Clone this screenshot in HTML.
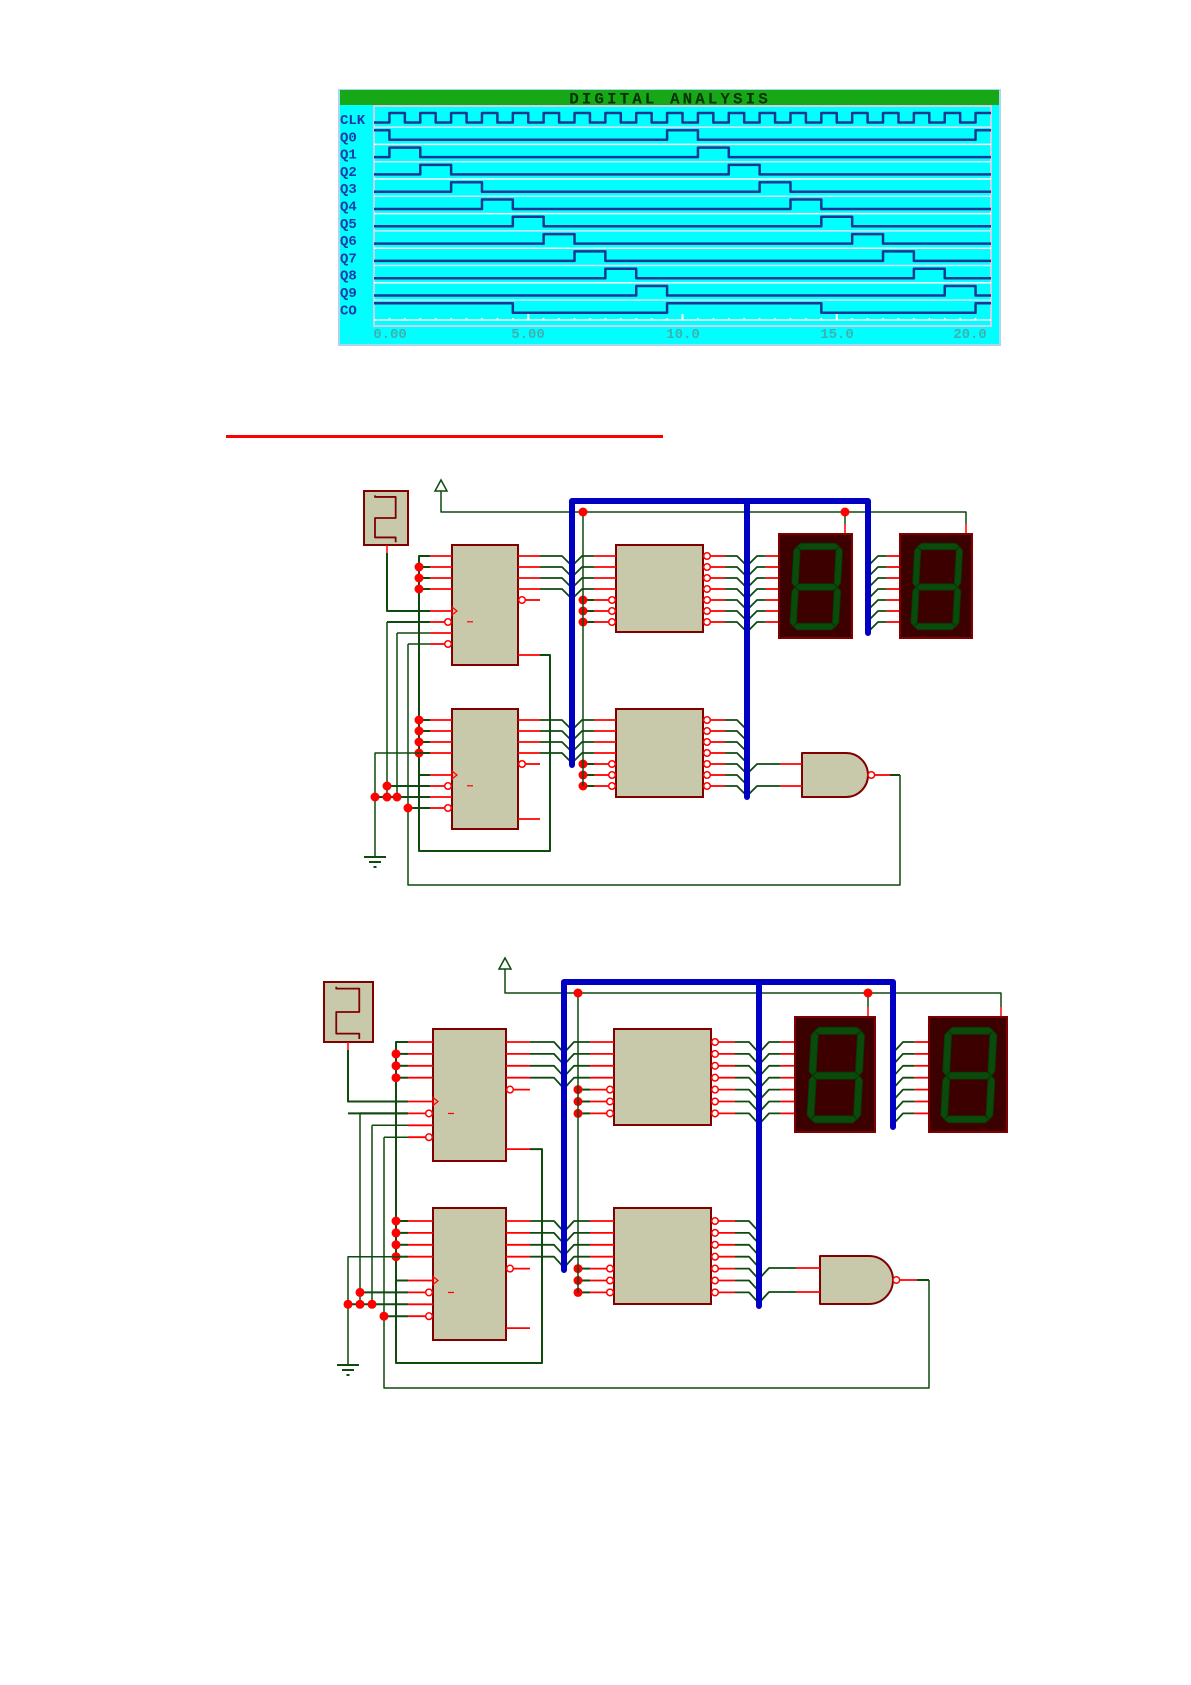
<!DOCTYPE html>
<html><head><meta charset="utf-8"><style>
html,body{margin:0;padding:0;background:#fff;width:1191px;height:1685px;overflow:hidden}
svg{display:block}
text{font-family:"Liberation Mono",monospace}
</style></head><body>
<div id="root"></div>
<script>
const G='#0f4a0f',R='#ff0000',BR='#800000',CF='#c8c8aa';
let s='';
function L(x1,y1,x2,y2,c,w){s+=`<line x1="${x1}" y1="${y1}" x2="${x2}" y2="${y2}" stroke="${c}" stroke-width="${w||1.5}"/>`;}
function P(d,c,w,f){s+=`<path d="${d}" stroke="${c}" stroke-width="${w||1.5}" fill="${f||'none'}" stroke-linejoin="round"/>`;}
function dot(x,y,r){s+=`<circle cx="${x}" cy="${y}" r="${r||4.5}" fill="${R}"/>`;}
function bub(x,y){s+=`<circle cx="${x}" cy="${y}" r="3.3" fill="#fff" stroke="${R}" stroke-width="1.5"/>`;}
function rect(x1,y1,x2,y2,f,c,w){s+=`<rect x="${x1}" y="${y1}" width="${x2-x1}" height="${y2-y1}" fill="${f}" stroke="${c}" stroke-width="${w||2}"/>`;}

/* ---------- waveform panel ---------- */
const X=t=>374+30.85*t;
rect(339,90,1000,345,'#00ffff','#a8d8f0',2);
s+=`<rect x="340" y="90" width="659" height="15" fill="#16a816"/>`;
s+=`<text x="670" y="103.5" text-anchor="middle" font-size="16" font-weight="bold" fill="#063006" letter-spacing="3">DIGITAL ANALYSIS</text>`;
rect(374,106,991,326,'none','#c8d0ec',2);
const names=['CLK','Q0','Q1','Q2','Q3','Q4','Q5','Q6','Q7','Q8','Q9','CO'];
function wp(highs,hi,lo){let d=`M${X(0)},${highs.length&&highs[0][0]<=0?hi:lo}`;
 for(const [a0,b0] of highs){const a=Math.max(0,a0),b=Math.min(20,b0);if(b<=0||a>=20)continue;
  if(a>0)d+=` H${X(a)} V${hi}`;d+=` H${X(b)}`;if(b<20)d+=` V${lo}`;}
 d+=` H${X(20)}`;return d;}
for(let i=0;i<12;i++){
 const hi=113+17.3*i, lo=hi+9.5;
 if(i<11)L(374,lo+4.6,991,lo+4.6,i%2?'#ffffff':'#d8e4ff',1.5);
 s+=`<text x="340" y="${lo+1.5}" font-size="14" font-weight="bold" fill="#1a3aa8">${names[i]}</text>`;
 let h=[];
 if(i==0){for(let k=0;k<20;k++)h.push([k+0.5,k+1]);}
 else if(i<11){const k=i-1;h=[[k-0.5,k+0.5],[k+9.5,k+10.5],[k+19.5,k+20.5]];h=h.filter(a=>a[1]>0);}
 else h=[[0,4.5],[9.5,14.5],[19.5,20]];
 P(wp(h,hi,lo),'#1a3890',2.5);
}
L(374,320,991,320,'#ffffff',1.5);
for(let t=0.5;t<20;t+=0.5){const big=(t%5==0);L(X(t),big?314:318,X(t),320,'#ffffff',big?2:1.5);}
[['0.00',390],['5.00',528],['10.0',683],['15.0',837],['20.0',970]].forEach(a=>{
 s+=`<text x="${a[1]}" y="338" text-anchor="middle" font-size="14" font-weight="bold" fill="#40b0b0">${a[0]}</text>`;});

/* red line */
s+=`<rect x="226" y="435" width="437" height="3" fill="#ff0000"/>`;

/* ---------- schematic ---------- */
function seg7(x1,y1,x2,y2){
 rect(x1,y1,x2,y2,'#3c0000',BR,2);
 const w=x2-x1,h=y2-y1;
 const ax=x1+w*0.22, bx=x1+w*0.80, ty=y1+h*0.12, my=y1+h*0.51, by=y1+h*0.89, sk=w*0.025, t=w*0.09;
 const sx=(x,y)=>x+sk*(my-y)/(my-ty);
 const H=(xa,xb,y)=>`<polygon points="${sx(xa+t*0.6,y)},${y-t/2} ${sx(xb-t*0.6,y)},${y-t/2} ${sx(xb,y)},${y} ${sx(xb-t*0.6,y)},${y+t/2} ${sx(xa+t*0.6,y)},${y+t/2} ${sx(xa,y)},${y}" fill="#0a4a0a" stroke="#063806" stroke-width="0.8"/>`;
 const V=(x,ya,yb)=>`<polygon points="${sx(x,ya)},${ya} ${sx(x,ya)+t/2},${ya+t*0.6} ${sx(x,yb)+t/2},${yb-t*0.6} ${sx(x,yb)},${yb} ${sx(x,yb)-t/2},${yb-t*0.6} ${sx(x,ya)-t/2},${ya+t*0.6}" fill="#0a4a0a" stroke="#063806" stroke-width="0.8"/>`;
 s+=H(ax,bx,ty)+H(ax,bx,my)+H(ax,bx,by)+V(ax,ty,my)+V(bx,ty,my)+V(ax,my,by)+V(bx,my,by);
}
function sch(p){
 const Pt=p.P, sl=p.P-1, st=p.stub;
 const rA=k=>p.cA[4]+Pt*k, rB=k=>p.cB[4]+Pt*k, dA=k=>p.dA[4]+Pt*k, dB=k=>p.dB[4]+Pt*k;
 const [c1,c2,c3,c4]=p.clk; rect(c1,c2,c3,c4,CF,BR,2);
 const cw=c3-c1,ch=c4-c2;
 P(`M${c1+cw*.25},${c2+ch*.08} V${c2+ch*.11} H${c1+cw*.72} V${c2+ch*.5} H${c1+cw*.25} V${c2+ch*.86} H${c1+cw*.72} V${c2+ch*.95}`,BR,1.8);
 L(p.clkX,c4,p.clkX,c4+8,R,1.5);
 P(`M${p.clkX},${c4+8} V${rA(5)} H${p.stubX}`,G,2);
 s+=`<polygon points="${p.pwrX-6},${p.pwrTop+11} ${p.pwrX+6},${p.pwrTop+11} ${p.pwrX},${p.pwrTop}" fill="#fff" stroke="${G}" stroke-width="1.5"/>`;
 P(`M${p.pwrX},${p.pwrTop+11} V${p.wireY} H${p.wireRight} V${p.d2[1]-10}`,G,1.5);
 L(p.wireRight,p.d2[1]-10,p.wireRight,p.d2[1],R,1.5);
 const an1=p.d1[2]-7;
 L(an1,p.wireY,an1,p.d1[1]-10,G,1.5);L(an1,p.d1[1]-10,an1,p.d1[1],R,1.5);
 function cnt(c,r){
  const [x1,y1,x2,y2]=c; rect(x1,y1,x2,y2,CF,BR,2);
  for(let k=0;k<4;k++){L(p.stubX,r(k),x1,r(k),R,1.8);L(x2,r(k),x2+st,r(k),R,1.8);}
  L(x2+7,r(4),x2+st,r(4),R,1.8);bub(x2+4,r(4));
  L(x2,r(9),x2+st,r(9),R,1.8);
  for(let k=5;k<9;k++){L(p.stubX,r(k),(k==6||k==8)?x1-7:x1,r(k),R,1.8);}
  bub(x1-4,r(6));bub(x1-4,r(8));
  s+=`<polygon points="${x1},${r(5)-4} ${x1+5},${r(5)} ${x1},${r(5)+4}" fill="none" stroke="${R}" stroke-width="1.2"/>`;
  L(x1+15,y1+(y2-y1)*0.64,x1+21,y1+(y2-y1)*0.64,R,1.2);
  for(let k=0;k<4;k++){L(p.dotX,r(k),p.stubX,r(k),G,2);}
 }
 cnt(p.cA,rA);cnt(p.cB,rB);
 P(`M${p.stubX},${rA(0)} H${p.dotX} V${p.loopY} H${p.loopX} V${rA(9)} H${p.cA[2]+st}`,G,2);
 L(p.dotX,rB(5),p.stubX,rB(5),G,2);
 for(let k=1;k<4;k++)dot(p.dotX,rA(k));
 for(let k=0;k<4;k++)dot(p.dotX,rB(k));
 P(`M${p.clkX},${rA(6)} H${p.stubX}`,G,2);
 P(`M${p.x6},${rA(6)} V${rB(7)}`,G,1.5);
 P(`M${p.x7},${rA(7)} H${p.stubX} M${p.x7},${rA(7)} V${rB(7)}`,G,1.5);
 P(`M${p.x8},${rA(8)} H${p.stubX} M${p.x8},${rA(8)} V${p.fbY} H${p.fbX} V${p.gOut}`,G,1.5);
 L(p.x6,rA(6),p.stubX,rA(6),G,2);
 P(`M${p.stubX},${rB(3)} H${p.gndX} V${p.gndY}`,G,1.5);
 L(p.x6,rB(6),p.stubX,rB(6),G,2);dot(p.x6,rB(6));
 L(p.gndX,rB(7),p.stubX,rB(7),G,2);dot(p.gndX,rB(7));dot(p.x6,rB(7));dot(p.x7,rB(7));
 L(p.x8,rB(8),p.stubX,rB(8),G,2);dot(p.x8,rB(8));
 L(p.gndX-11,p.gndY,p.gndX+11,p.gndY,G,2);L(p.gndX-6,p.gndY+5,p.gndX+6,p.gndY+5,G,2);L(p.gndX-1.5,p.gndY+10,p.gndX+1.5,p.gndY+10,G,2);
 function dec(c,r){
  const [x1,y1,x2,y2]=c; rect(x1,y1,x2,y2,CF,BR,2);
  for(let k=0;k<7;k++){L(x2+7,r(k),x2+st,r(k),R,1.8);bub(x2+4,r(k));}
  for(let k=0;k<4;k++){L(x1-st,r(k),x1,r(k),R,1.8);}
  for(let k=4;k<7;k++){L(x1-st,r(k),x1-7,r(k),R,1.8);bub(x1-4,r(k));L(p.dot2X,r(k),x1-st,r(k),G,2);dot(p.dot2X,r(k));}
 }
 dec(p.dA,dA);dec(p.dB,dB);
 L(p.dot2X,p.wireY,p.dot2X,dB(6),G,1.5);
 dot(p.dot2X,p.wireY);dot(an1,p.wireY);
 for(const r of [rA,rB]){
  const dr=(r===rA)?dA:dB;
  for(let k=0;k<4;k++){
   P(`M${p.cA[2]+st},${r(k)} H${p.b1-10} L${p.b1},${r(k)+sl}`,G,1.8);
   P(`M${p.b1},${r(k)+sl} L${p.b1+10},${dr(k)} H${p.dA[0]-st}`,G,1.8);
  }
 }
 for(const dr of [dA,dB]){
  for(let k=0;k<7;k++)P(`M${p.dA[2]+st},${dr(k)} H${p.b2-10} L${p.b2},${dr(k)+sl}`,G,1.8);
 }
 for(let k=0;k<7;k++){
  P(`M${p.b2},${dA(k)+sl} L${p.b2+10},${dA(k)} H${p.d1[0]-st*0.6}`,G,1.8);L(p.d1[0]-st*0.6,dA(k),p.d1[0],dA(k),R,1.8);
  P(`M${p.b3},${dA(k)+sl} L${p.b3+10},${dA(k)} H${p.d2[0]-st*0.6}`,G,1.8);L(p.d2[0]-st*0.6,dA(k),p.d2[0],dA(k),R,1.8);
 }
 seg7(...p.d1);seg7(...p.d2);
 const [g1,g2,g3,g4]=p.gate, gh=g4-g2, gr=gh/2;
 P(`M${g1},${g2} H${g3-gr} A${gr},${gr} 0 0 1 ${g3-gr},${g4} H${g1} Z`,BR,2,CF);
 const gi=[g2+gh*0.25,g2+gh*0.75];
 for(const y of gi){P(`M${p.b2},${y+sl} L${p.b2+10},${y} H${g1-st}`,G,1.8);L(g1-st,y,g1,y,R,1.8);}
 bub(g3+3.3,p.gOut);L(g3+6.6,p.gOut,g3+st,p.gOut,R,1.8);L(g3+st,p.gOut,p.fbX,p.gOut,G,2);
 s+=`<path d="M${p.b1},${p.b1bot} V${p.busTop} H${p.b3} V${p.b3bot} M${p.b2},${p.busTop} V${p.b2bot}" stroke="#0000c4" stroke-width="6" fill="none" stroke-linecap="round" stroke-linejoin="round"/>`;
}
sch({P:11,stub:22,clk:[364,491,408,545],clkX:387,pwrX:441,pwrTop:480,wireY:512,wireRight:966,
 busTop:501,b1:572,b2:747,b3:868,b1bot:765,b2bot:797,b3bot:633,
 cA:[452,545,518,665,556],cB:[452,709,518,829,720],dA:[616,545,703,632,556],dB:[616,709,703,797,720],
 d1:[779,534,852,638],d2:[900,534,972,638],gate:[802,753,868,797],gOut:775,
 stubX:430,dotX:419,gndX:375,gndY:857,x6:387,x7:397,x8:408,loopX:550,loopY:851,fbX:900,fbY:885,dot2X:583});
sch({P:11.9,stub:24,clk:[324,982,373,1042],clkX:348,pwrX:505,pwrTop:958,wireY:993,wireRight:1001,
 busTop:982,b1:564,b2:759,b3:893,b1bot:1270,b2bot:1306,b3bot:1127,
 cA:[433,1029,506,1161,1042],cB:[433,1208,506,1340,1221],dA:[614,1029,711,1125,1042],dB:[614,1208,711,1304,1221],
 d1:[795,1017,875,1132],d2:[929,1017,1007,1132],gate:[820,1256,893,1304],gOut:1280,
 stubX:408,dotX:396,gndX:348,gndY:1365,x6:360,x7:372,x8:384,loopX:542,loopY:1363,fbX:929,fbY:1388,dot2X:578});
document.getElementById('root').innerHTML=`<svg xmlns="http://www.w3.org/2000/svg" width="1191" height="1685" viewBox="0 0 1191 1685">${s}</svg>`;
</script>
</body></html>
